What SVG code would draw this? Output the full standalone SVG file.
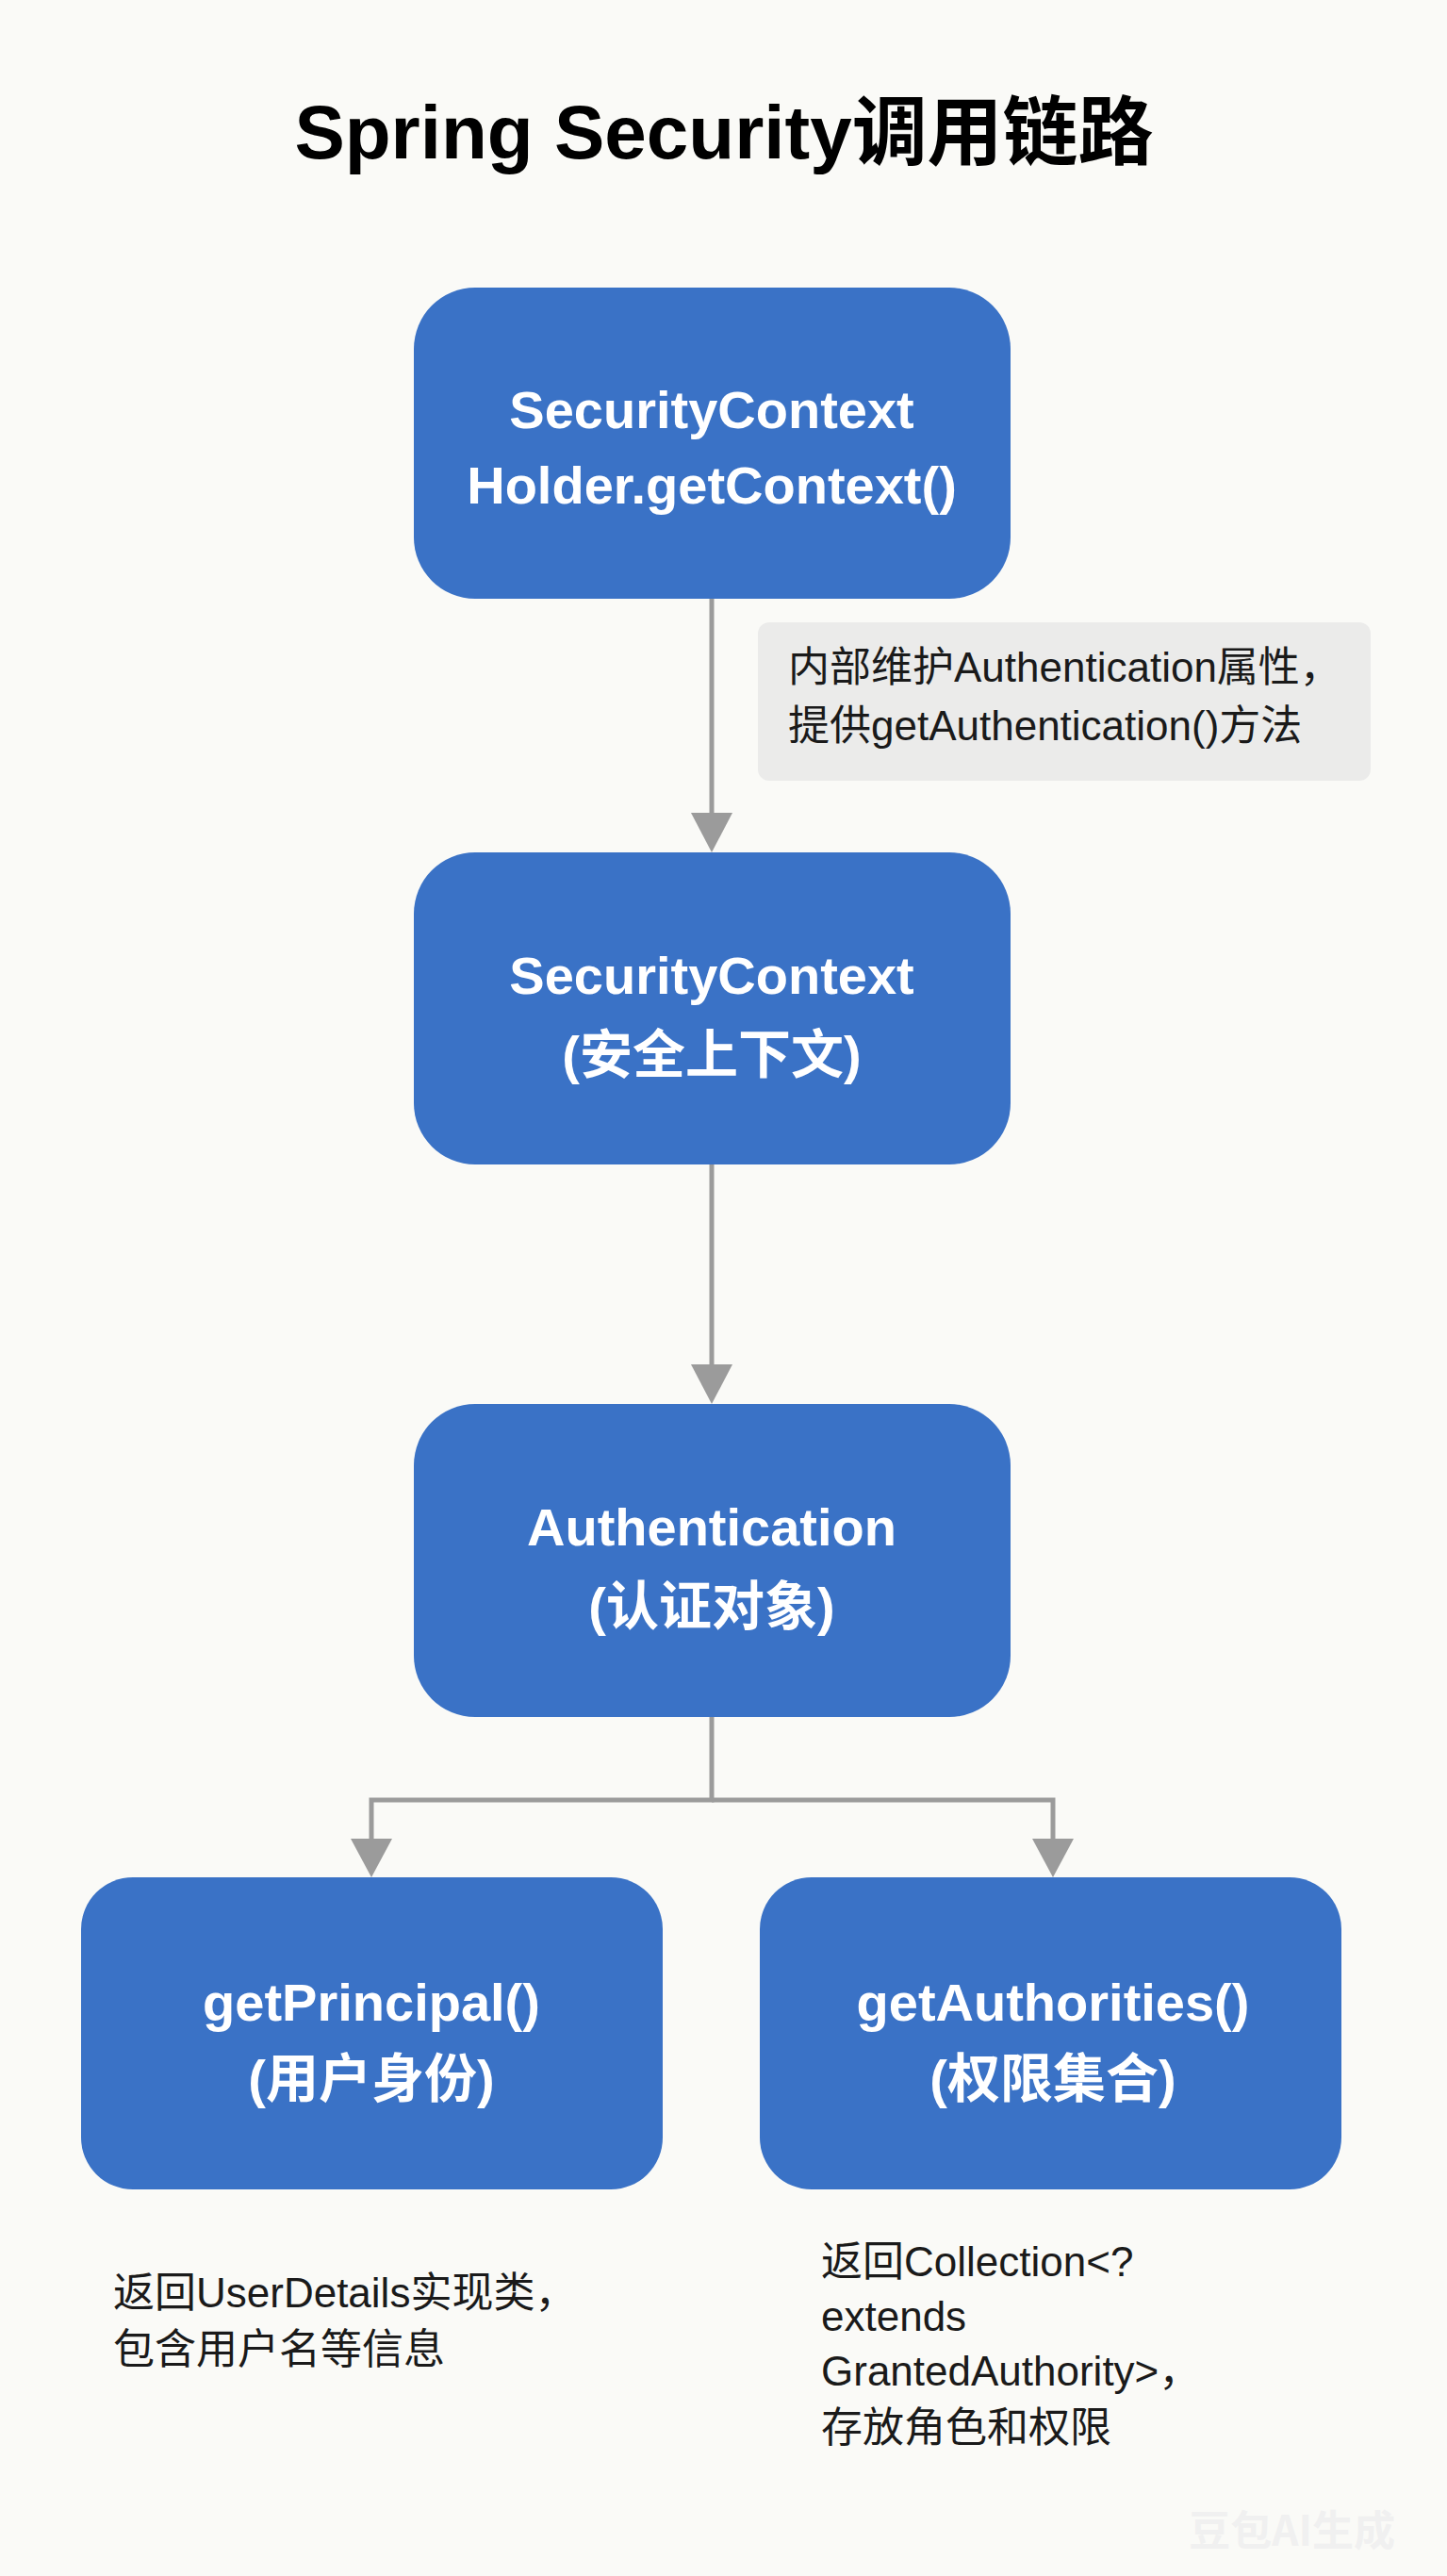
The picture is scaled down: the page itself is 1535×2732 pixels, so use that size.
<svg xmlns="http://www.w3.org/2000/svg" width="1535" height="2732" viewBox="0 0 1535 2732">
<defs>
<style>
.node rect{fill:#3A72C6;}
.node text{fill:#fff;font-family:"Liberation Sans","Noto Sans CJK SC",sans-serif;font-size:56px;font-weight:bold;text-anchor:middle;}
.note{font-family:"Liberation Sans","Noto Sans CJK SC",sans-serif;font-size:44px;fill:#1a1a1a;}
.conn{stroke:#9B9B9B;stroke-width:5;fill:none;}
</style>
</defs>
<rect width="1535" height="2732" fill="#FAFAF7"/>
<text x="768" y="168" font-family="Liberation Sans,Noto Sans CJK SC,sans-serif" font-size="80" font-weight="bold" text-anchor="middle" fill="#000">Spring Security调用链路</text>
<g id="connectors">
<line class="conn" x1="755" y1="635" x2="755" y2="862"/>
<path d="M733,862h44l-22,42z" fill="#9B9B9B"/>
<line class="conn" x1="755" y1="1235" x2="755" y2="1447"/>
<path d="M733,1447h44l-22,42z" fill="#9B9B9B"/>
<polyline class="conn" points="755,1821 755,1909 394,1909 394,1950"/>
<polyline class="conn" points="755,1909 1117,1909 1117,1950"/>
<path d="M372,1950h44l-22,41z" fill="#9B9B9B"/>
<path d="M1095,1950h44l-22,41z" fill="#9B9B9B"/>
</g>
<g id="note1">
<rect x="804" y="660" width="650" height="168" rx="12" fill="#EBEBEA"/>
<text class="note" x="836" y="723">内部维护Authentication属性，</text>
<text class="note" x="836" y="785">提供getAuthentication()方法</text>
</g>
<g id="n1" class="node"><rect x="439" y="305" width="633" height="330" rx="65"/>
<text x="755" y="454">SecurityContext</text><text x="755" y="534">Holder.getContext()</text></g>
<g id="n2" class="node"><rect x="439" y="904" width="633" height="331" rx="65"/>
<text x="755" y="1054">SecurityContext</text><text x="755" y="1138">(安全上下文)</text></g>
<g id="n3" class="node"><rect x="439" y="1489" width="633" height="332" rx="65"/>
<text x="755" y="1639">Authentication</text><text x="755" y="1723">(认证对象)</text></g>
<g id="n4" class="node"><rect x="86" y="1991" width="617" height="331" rx="55"/>
<text x="394" y="2143">getPrincipal()</text><text x="394" y="2224">(用户身份)</text></g>
<g id="n5" class="node"><rect x="806" y="1991" width="617" height="331" rx="55"/>
<text x="1117" y="2143">getAuthorities()</text><text x="1117" y="2224">(权限集合)</text></g>
<g id="note2">
<text class="note" x="120" y="2447">返回UserDetails实现类，</text>
<text class="note" x="120" y="2507">包含用户名等信息</text>
</g>
<g id="note3">
<text class="note" x="871" y="2414">返回Collection&lt;?</text>
<text class="note" x="871" y="2472">extends</text>
<text class="note" x="871" y="2530">GrantedAuthority&gt;，</text>
<text class="note" x="871" y="2590">存放角色和权限</text>
</g>
<text x="1480" y="2700" font-family="Noto Sans CJK SC,sans-serif" font-size="44" font-weight="bold" text-anchor="end" fill="#F0F0F0">豆包AI生成</text>
</svg>
